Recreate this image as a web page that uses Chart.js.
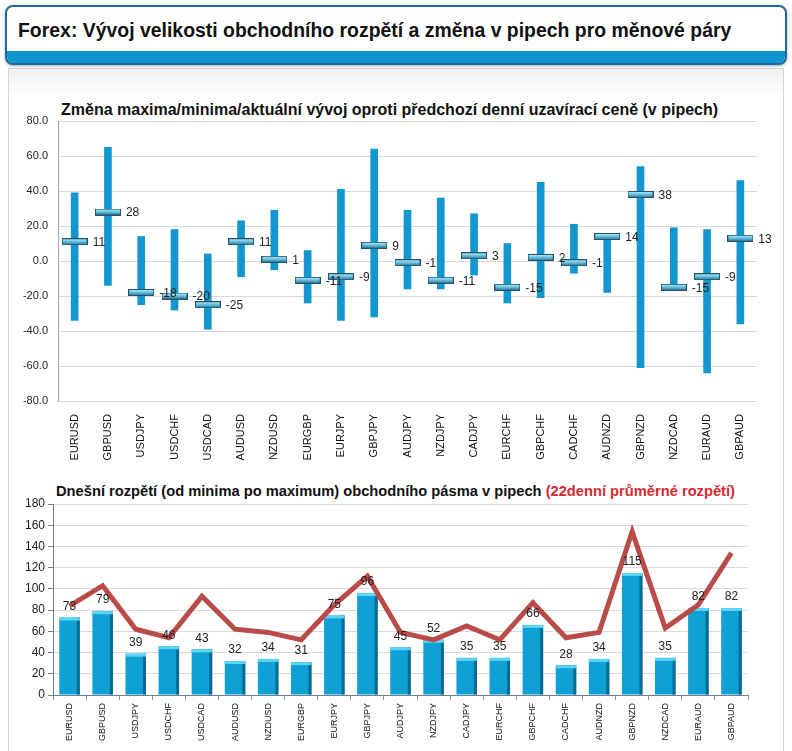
<!DOCTYPE html>
<html lang="cs">
<head>
<meta charset="utf-8">
<script src="https://cdn.jsdelivr.net/npm/chart.js@4.4.1/dist/chart.umd.min.js"></script>
<style>
    body { margin: 0; width: 792px; height: 751px; background: #fff; position: relative; overflow: hidden; font-family: "Liberation Sans", Arial, sans-serif; }
    #hlavicka { position: absolute; left: 5px; top: 5px; width: 778px; height: 56px; border: 2px solid #1c6ba0; border-radius: 8px; background: #fff; overflow: hidden; box-shadow: 0 1px 3px rgba(0,0,0,.35); }
    #hlavicka .pruh { position: absolute; left: 0; right: 0; bottom: 0; height: 12px; background: #0e95cd; }
    #hlavicka h1 { margin: 0; position: absolute; left: 11px; top: 11px; font: bold 20px/24px "Liberation Sans", Arial, sans-serif; color: #111; white-space: nowrap; transform-origin: 0 0; }
    #panel { position: absolute; left: 8px; top: 68px; width: 774px; height: 690px; border: 1px solid #d4d4d4; background: linear-gradient(#f1f1f1, #fff 28px); }
    .titulek { position: absolute; font-weight: bold; font-family: "Liberation Sans", Arial, sans-serif; color: #111; white-space: nowrap; }
    .titulek span { color: #d42a33; }
    #grafZmena { position: absolute; left: 10px; top: 100px; }
    #grafRozpeti { position: absolute; left: 10px; top: 490px; }
</style>
</head>
<body>
<div id="hlavicka"><h1 id="nadpis">Forex: Vývoj velikosti obchodního rozpětí a změna v pipech pro měnové páry</h1><div class="pruh"></div></div>
<div id="panel"></div>
<div class="titulek" style="left:61px; top:101px; font-size:16px;">Změna maxima/minima/aktuální vývoj oproti předchozí denní uzavírací ceně (v pipech)</div>
<div class="titulek" style="left:56px; top:483px; font-size:14.7px;">Dnešní rozpětí (od minima po maximum) obchodního pásma v pipech <span>(22denní průměrné rozpětí)</span></div>
<canvas id="grafZmena" width="770" height="380" style="width:770px;height:380px"></canvas>
<canvas id="grafRozpeti" width="770" height="258" style="width:770px;height:258px"></canvas>
<script>
var paryMeny = ['EURUSD', 'GBPUSD', 'USDJPY', 'USDCHF', 'USDCAD', 'AUDUSD', 'NZDUSD', 'EURGBP', 'EURJPY', 'GBPJPY', 'AUDJPY',
    'NZDJPY', 'CADJPY', 'EURCHF', 'GBPCHF', 'CADCHF', 'AUDNZD', 'GBPNZD', 'NZDCAD', 'EURAUD', 'GBPAUD'];

// horni graf - zmena proti predchozi denni uzaviraci cene
var zmenaMax = [39, 65, 14, 18, 4, 23, 29, 6, 41, 64, 29, 36, 27, 10, 45, 21, 15, 54, 19, 18, 46];
var zmenaMin = [-34, -14, -25, -28, -39, -9, -5, -24, -34, -32, -16, -16, -8, -24, -21, -7, -18, -61, -15, -64, -36];
var zmenaAktualni = [11, 28, -18, -20, -25, 11, 1, -11, -9, 9, -1, -11, 3, -15, 2, -1, 14, 38, -15, -9, 13];
var osaZmena = { min: -80, max: 80, krok: 20 };

// dolni graf - dnesni rozpeti a 22denni prumer
var rozpetiDnes = [73, 79, 39, 46, 43, 32, 34, 31, 75, 96, 45, 52, 35, 35, 66, 28, 34, 115, 35, 82, 82];
var rozpetiPrumer = [84, 103, 62, 54, 93, 62, 59, 52, 85, 112, 59, 52, 65, 52, 87, 54, 59, 154, 63, 85, 134];
var osaRozpeti = { min: 0, max: 180, krok: 20 };

var pismo = '"Liberation Sans", Arial, sans-serif';

// nadpis je v originale uzsim pismem - srovnat na sirku
var nadpis = document.getElementById('nadpis');
nadpis.style.transform = 'scaleX(' + (714 / nadpis.offsetWidth).toFixed(3) + ')';

// znacka aktualni hodnoty (vodorovna "pilulka")
function vytvorZnacku() {
    var c = document.createElement('canvas');
    c.width = 26; c.height = 7;
    var g = c.getContext('2d');
    var grad = g.createLinearGradient(0, 0, 0, 7);
    grad.addColorStop(0, '#c4f0f8');
    grad.addColorStop(0.45, '#6cc8e4');
    grad.addColorStop(1, '#1c6a92');
    g.fillStyle = grad;
    g.fillRect(0.5, 0.5, 25, 6);
    g.strokeStyle = '#27506a';
    g.lineWidth = 1;
    g.strokeRect(0.5, 0.5, 25, 6);
    return c;
}

var rozsahy = [];
for (var i = 0; i < paryMeny.length; i++) {
    rozsahy.push([zmenaMin[i], zmenaMax[i]]);
}

var popiskyZmena = {
    id: 'popiskyZmena',
    afterDraw: function (chart) {
        var ctx = chart.ctx;
        var meta = chart.getDatasetMeta(0);
        ctx.save();
        ctx.font = '12px ' + pismo;
        ctx.fillStyle = '#222';
        ctx.textAlign = 'left';
        ctx.textBaseline = 'middle';
        meta.data.forEach(function (bod, i) {
            ctx.fillText(zmenaAktualni[i], bod.x + 18, bod.y + 1);
        });
        ctx.restore();
    }
};

new Chart(document.getElementById('grafZmena'), {
    type: 'bar',
    data: {
        labels: paryMeny,
        datasets: [{
            type: 'line',
            data: zmenaAktualni,
            showLine: false,
            pointStyle: vytvorZnacku(),
            order: 0
        }, {
            type: 'bar',
            data: rozsahy,
            backgroundColor: '#1497cf',
            barThickness: 7,
            order: 1
        }]
    },
    options: {
        responsive: false,
        animation: false,
        layout: { padding: { top: 21, left: 0, right: 23, bottom: 9 } },
        plugins: { legend: { display: false }, tooltip: { enabled: false } },
        scales: {
            x: {
                grid: { display: false },
                border: { display: false },
                ticks: { minRotation: 90, maxRotation: 90, autoSkip: false, padding: 5, color: '#111', font: { family: pismo, size: 11 } },
                afterFit: function (s) { s.height = 70; }
            },
            y: {
                min: osaZmena.min, max: osaZmena.max,
                grid: { color: '#d9d9d9', drawTicks: false },
                border: { color: '#a6a6a6' },
                ticks: { stepSize: osaZmena.krok, padding: 10, color: '#222', font: { family: pismo, size: 11 },
                    callback: function (v) { return v.toFixed(1); } },
                afterFit: function (s) { s.width = 48; }
            }
        }
    },
    plugins: [popiskyZmena]
});

// 3D vzhled sloupcu + popisky
var sloupce3d = {
    id: 'sloupce3d',
    afterDatasetDraw: function (chart, args) {
        if (args.index !== 1) return;
        var ctx = chart.ctx;
        ctx.save();
        args.meta.data.forEach(function (b) {
            var w = b.width, x0 = b.x - w / 2;
            ctx.fillStyle = '#0b6a90';
            ctx.fillRect(x0 + w - 3, b.y, 3, b.base - b.y);
            ctx.fillStyle = '#5fd3f3';
            ctx.fillRect(x0, b.y, w, 3);
        });
        ctx.restore();
    },
    afterDraw: function (chart) {
        var ctx = chart.ctx;
        var meta = chart.getDatasetMeta(1);
        ctx.save();
        ctx.font = '12px ' + pismo;
        ctx.fillStyle = '#222';
        ctx.textAlign = 'center';
        ctx.textBaseline = 'bottom';
        meta.data.forEach(function (b, i) {
            ctx.fillText(rozpetiDnes[i], b.x, b.y - 5);
        });
        ctx.restore();
    }
};

new Chart(document.getElementById('grafRozpeti'), {
    type: 'bar',
    data: {
        labels: paryMeny,
        datasets: [{
            type: 'line',
            data: rozpetiPrumer,
            borderColor: '#b94b48',
            borderWidth: 5,
            pointRadius: 0,
            tension: 0,
            order: 0
        }, {
            type: 'bar',
            data: rozpetiDnes,
            backgroundColor: '#0fa0d6',
            barPercentage: 0.62,
            categoryPercentage: 1,
            order: 1
        }]
    },
    options: {
        responsive: false,
        animation: false,
        layout: { padding: { top: 14, left: 0, right: 32, bottom: 3 } },
        plugins: { legend: { display: false }, tooltip: { enabled: false } },
        scales: {
            x: {
                grid: { drawOnChartArea: false, drawTicks: true, tickLength: 5, color: '#8797ab' },
                border: { color: '#6d7f96' },
                ticks: { minRotation: 90, maxRotation: 90, autoSkip: false, padding: 3, color: '#111', font: { family: pismo, size: 9 } },
                afterFit: function (s) { s.height = 50; }
            },
            y: {
                min: osaRozpeti.min, max: osaRozpeti.max,
                grid: { color: '#d9d9d9', tickLength: 5, tickColor: '#6d7f96' },
                border: { color: '#6d7f96' },
                ticks: { stepSize: osaRozpeti.krok, padding: 3, color: '#222', font: { family: pismo, size: 12 } },
                afterFit: function (s) { s.width = 43; }
            }
        }
    },
    plugins: [sloupce3d]
});
</script>
</body>
</html>
